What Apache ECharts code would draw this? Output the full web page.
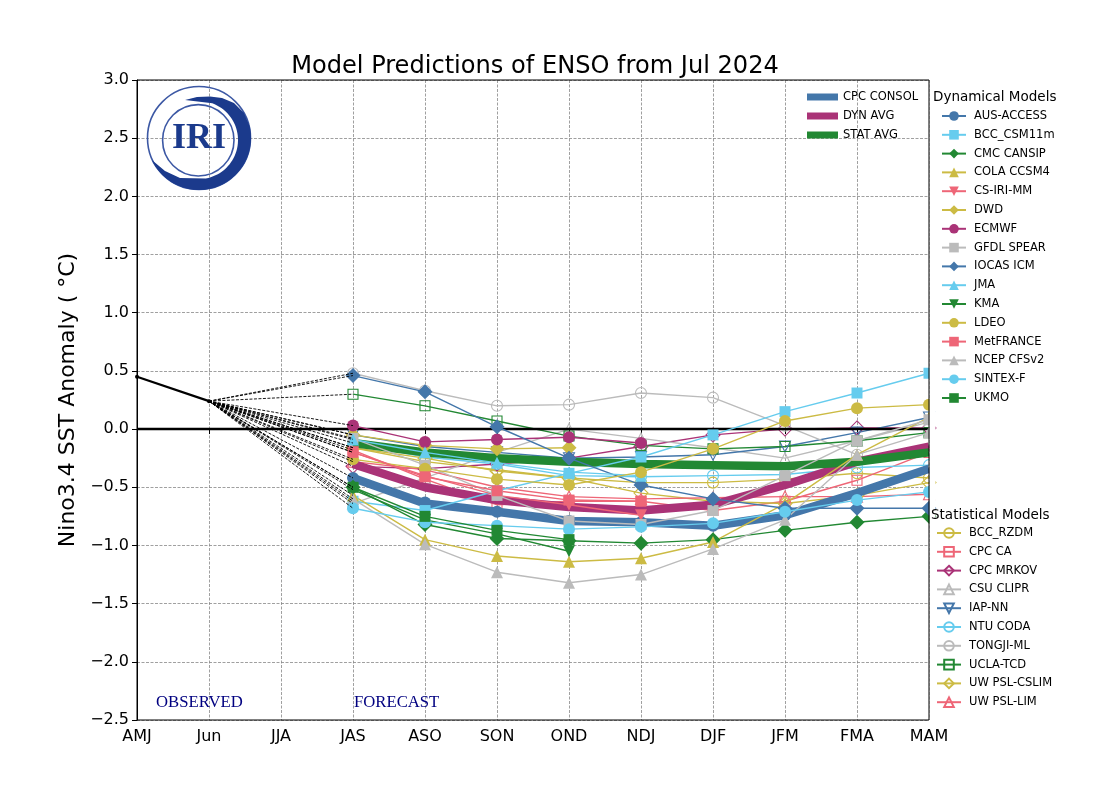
<!DOCTYPE html>
<html>
<head>
<meta charset="utf-8">
<title>ENSO model predictions</title>
<script src="https://cdn.jsdelivr.net/npm/echarts@6/dist/echarts.min.js"></script>
<style>
	html, body { margin: 0; padding: 0; background: #fff; }
	#chart { width: 1100px; height: 800px; }
</style>
</head>
<body>
<div id="chart"></div>
<script>
const categories = ['AMJ', 'Jun', 'JJA', 'JAS', 'ASO', 'SON', 'OND', 'NDJ', 'DJF', 'JFM', 'FMA', 'MAM'];
const observed = [0.45, 0.24];

//dynamical models, JAS onward
const ausAccess = [-0.42, -0.63, -0.71, -0.79, -0.8, -0.83, -0.74];
const bccCsm = [-0.62, -0.7, -0.53, -0.38, -0.24, -0.05, 0.15, 0.31, 0.48];
const cmcCansip = [-0.5, -0.82, -0.94, -0.96, -0.98, -0.95, -0.87, -0.8, -0.75];
const colaCcsm = [-0.57, -0.95, -1.09, -1.14, -1.11, -0.97, -0.64, -0.22, 0.1];
const csIriMm = [-0.2, -0.4, -0.57, -0.65, -0.74];
const dwd = [-0.05, -0.14, -0.17, -0.16];
const ecmwf = [0.03, -0.11, -0.09, -0.07, -0.12];
const gfdlSpear = [-0.08, -0.31, -0.57, -0.79, -0.82, -0.7, -0.4, -0.1, 0.08];
const iocasIcm = [0.46, 0.32, 0.02, -0.25, -0.48, -0.6, -0.68, -0.68, -0.68];
const jma = [-0.09, -0.2, -0.29, -0.37, -0.4];
const kma = [-0.52, -0.78, -0.9, -1.05];
const ldeo = [-0.26, -0.34, -0.43, -0.48, -0.37, -0.17, 0.07, 0.18, 0.21];
const metFrance = [-0.2, -0.41, -0.53, -0.61, -0.62];
const ncepCfs = [-0.6, -0.99, -1.23, -1.32, -1.25, -1.03, -0.78, -0.22, -0.03];
const sintexF = [-0.68, -0.8, -0.83, -0.86, -0.84, -0.81, -0.71, -0.61, -0.54];
const ukmo = [-0.5, -0.75, -0.87, -0.95];

//statistical models
const bccRzdm = [-0.16, -0.28, -0.35, -0.42, -0.46, -0.46, -0.43, -0.38, -0.42];
const cpcCa = [-0.18, -0.43, -0.65, -0.62, -0.62, -0.7, -0.62, -0.44, -0.2];
const cpcMrkov = [-0.32, -0.34, -0.3, -0.25, -0.15, -0.05, 0, 0.01, 0.01];
const csuClipr = [-0.64, -0.42, -0.2, 0, -0.08, -0.16, -0.25, -0.1, 0.06];
const iapNn = [-0.05, -0.15, -0.2, -0.25, -0.24, -0.22, -0.15, -0.03, 0.1];
const ntuCoda = [-0.12, -0.24, -0.3, -0.4, -0.41, -0.4, -0.39, -0.33, -0.31];
const tongjiMl = [0.48, 0.33, 0.2, 0.21, 0.31, 0.27, 0.03, -0.22];
const uclaTcd = [0.3, 0.2, 0.07, -0.06, -0.14, -0.17, -0.15, -0.1, -0.03];
const uwCslim = [-0.16, -0.25, -0.36, -0.42, -0.55, -0.62, -0.64, -0.57, -0.46];
const uwLim = [-0.28, -0.35, -0.5, -0.58, -0.6, -0.59, -0.58, -0.58, -0.56];

//averages
const cpcConsol = [-0.42, -0.64, -0.71, -0.79, -0.8, -0.83, -0.74, -0.55, -0.34];
const dynAvg = [-0.3, -0.5, -0.61, -0.67, -0.7, -0.65, -0.48, -0.28, -0.15];
const statAvg = [-0.12, -0.2, -0.25, -0.28, -0.3, -0.31, -0.32, -0.28, -0.2];

const blue = '#4477AA', cyan = '#66CCEE', green = '#228833', yellow = '#CCBB44', pink = '#EE6677', purple = '#AA3377', grey = '#BBBBBB';
const navy = '#1b3a8c';

const dynModels = [
	['AUS-ACCESS', ausAccess, blue, 'circle'],
	['BCC_CSM11m', bccCsm, cyan, 'rect'],
	['CMC CANSIP', cmcCansip, green, 'diamond'],
	['COLA CCSM4', colaCcsm, yellow, 'triangle'],
	['CS-IRI-MM', csIriMm, pink, 'down'],
	['DWD', dwd, yellow, 'diamond'],
	['ECMWF', ecmwf, purple, 'circle'],
	['GFDL SPEAR', gfdlSpear, grey, 'rect'],
	['IOCAS ICM', iocasIcm, blue, 'diamond'],
	['JMA', jma, cyan, 'triangle'],
	['KMA', kma, green, 'down'],
	['LDEO', ldeo, yellow, 'circle'],
	['MetFRANCE', metFrance, pink, 'rect'],
	['NCEP CFSv2', ncepCfs, grey, 'triangle'],
	['SINTEX-F', sintexF, cyan, 'circle'],
	['UKMO', ukmo, green, 'rect']
];

const statModels = [
	['BCC_RZDM', bccRzdm, yellow, 'circle'],
	['CPC CA', cpcCa, pink, 'rect'],
	['CPC MRKOV', cpcMrkov, purple, 'diamond'],
	['CSU CLIPR', csuClipr, grey, 'triangle'],
	['IAP-NN', iapNn, blue, 'down'],
	['NTU CODA', ntuCoda, cyan, 'circle'],
	['TONGJI-ML', tongjiMl, grey, 'circle'],
	['UCLA-TCD', uclaTcd, green, 'rect'],
	['UW PSL-CSLIM', uwCslim, yellow, 'diamond'],
	['UW PSL-LIM', uwLim, pink, 'triangle']
];

const avgLines = [
	['CPC CONSOL', cpcConsol, blue],
	['DYN AVG', dynAvg, purple],
	['STAT AVG', statAvg, green]
];

const markerSizes = { circle: 12, rect: 11, diamond: 15, triangle: 12, down: 12 };

//forecast values start at the fourth category
const forecastData = function (values) {
	return [null, null, null].concat(values);
};

const modelSeries = function (model, hollow) {
	const shape = model[3];
	const down = shape === 'down';
	return {
		name: model[0],
		type: 'line',
		z: hollow ? 3 : 6,
		data: forecastData(model[1]),
		symbol: down ? 'triangle' : shape,
		symbolRotate: down ? 180 : 0,
		symbolSize: markerSizes[shape] - (hollow ? 1 : 0),
		showSymbol: true,
		showAllSymbol: true,
		lineStyle: { color: model[2], width: 1.4 },
		itemStyle: hollow
			? { color: 'rgba(255,255,255,0)', borderColor: model[2], borderWidth: 1.1 }
			: { color: model[2] }
	};
};

const series = [];

statModels.forEach(function (model) {
	series.push(modelSeries(model, true));
});

//zero line
series.push({
	name: 'zero',
	type: 'line',
	z: 4,
	symbol: 'none',
	data: categories.map(function () { return 0; }),
	lineStyle: { color: '#000', width: 2.5 }
});

avgLines.forEach(function (line) {
	series.push({
		name: line[0],
		type: 'line',
		z: 5,
		symbol: 'none',
		data: forecastData(line[1]),
		lineStyle: { color: line[2], width: 8.5 },
		itemStyle: { color: line[2] }
	});
});

dynModels.forEach(function (model) {
	series.push(modelSeries(model, false));
});

//dashed lines from the last observation to each model's first forecast
dynModels.concat(statModels).forEach(function (model) {
	series.push({
		name: 'link ' + model[0],
		type: 'line',
		z: 7,
		symbol: 'none',
		connectNulls: true,
		data: [null, observed[1], null, model[1][0]],
		lineStyle: { color: '#000', width: 0.9, type: [3, 1.5] }
	});
});

series.push({
	name: 'observed',
	type: 'line',
	z: 8,
	symbol: 'circle',
	symbolSize: 4,
	data: observed,
	lineStyle: { color: '#000', width: 2.2 },
	itemStyle: { color: '#000' }
});

const modelLegend = function (models, left, top) {
	return {
		left: left,
		top: top,
		z: 200,
		padding: 0,
		orient: 'vertical',
		selectedMode: false,
		itemWidth: 24,
		itemHeight: 12,
		itemGap: 6.8,
		data: models.map(function (m) { return m[0]; }),
		textStyle: { fontFamily: 'DejaVu Sans', fontSize: 11.5, color: '#000', padding: [0, 0, 0, 3] }
	};
};

const arcPoints = function (cx, cy, r, from, to, steps) {
	const points = [];
	for (let i = 0; i <= steps; i++) {
		const a = (from + (to - from) * i / steps) * Math.PI / 180;
		points.push([cx + r * Math.cos(a), cy + r * Math.sin(a)]);
	}
	return points;
};

const crescent = arcPoints(199, 138, 52, 155, -13, 40)
	.concat([[244, 113], [234, 103], [222, 98], [210, 96.5], [197, 97], [185, 100]])
	.concat(arcPoints(199, 140, 39, -70, 80, 40))
	.concat([[180, 178], [165, 171]]);

const graphicElements = [
	//hides the part of the markers past the right edge of the plot
	{ type: 'rect', z: 100, silent: true, shape: { x: 929.5, y: 78, width: 6, height: 644 }, style: { fill: '#fff' } },
	{ type: 'rect', z: 101, silent: true, shape: { x: 137, y: 80, width: 792, height: 640 }, style: { fill: 'none', stroke: '#000', lineWidth: 1 } },
	{ type: 'circle', z: 10, silent: true, shape: { cx: 199, cy: 138, r: 51.5 }, style: { fill: 'none', stroke: '#3c58a4', lineWidth: 1.6 } },
	{ type: 'circle', z: 10, silent: true, shape: { cx: 198.3, cy: 140.3, r: 35.7 }, style: { fill: 'none', stroke: '#3c58a4', lineWidth: 1.6 } },
	{ type: 'polygon', z: 10, silent: true, shape: { points: crescent }, style: { fill: navy } },
	{ type: 'text', z: 11, silent: true, x: 199, y: 139, style: { text: 'IRI', fill: navy, font: 'bold 36px "Liberation Serif"', textAlign: 'center', textVerticalAlign: 'middle' } },
	{ type: 'text', z: 11, silent: true, x: 156, y: 703, style: { text: 'OBSERVED', fill: '#000080', font: '16.7px "Liberation Serif"', textVerticalAlign: 'middle' } },
	{ type: 'text', z: 11, silent: true, x: 354, y: 703, style: { text: 'FORECAST', fill: '#000080', font: '16.7px "Liberation Serif"', textVerticalAlign: 'middle' } },
	{ type: 'text', z: 201, silent: true, x: 933, y: 97, style: { text: 'Dynamical Models', fill: '#000', font: '13.5px "DejaVu Sans"', textVerticalAlign: 'middle' } },
	{ type: 'text', z: 201, silent: true, x: 931, y: 515, style: { text: 'Statistical Models', fill: '#000', font: '13.5px "DejaVu Sans"', textVerticalAlign: 'middle' } }
];

const options = {
	animation: false,
	backgroundColor: '#fff',
	title: {
		text: 'Model Predictions of ENSO from Jul 2024',
		left: 530,
		top: 50,
		textAlign: 'center',
		textStyle: { fontFamily: 'DejaVu Sans', fontSize: 24.1, fontWeight: 'normal', color: '#000' }
	},
	grid: { left: 137, top: 80, width: 792, height: 640, containLabel: false },
	legend: [
		{
			left: 807,
			top: 91,
			z: 200,
			padding: 0,
			orient: 'vertical',
			selectedMode: false,
			itemWidth: 31,
			itemHeight: 7,
			itemGap: 7,
			data: avgLines.map(function (l) { return { name: l[0], icon: 'rect' }; }),
			textStyle: { fontFamily: 'DejaVu Sans', fontSize: 11.5, color: '#000', padding: [0, 0, 0, 0] }
		},
		modelLegend(dynModels, 941, 110),
		modelLegend(statModels, 936, 527)
	],
	xAxis: {
		type: 'category',
		boundaryGap: false,
		data: categories,
		axisLine: { lineStyle: { color: '#000', width: 1 } },
		axisTick: { show: true, interval: 0, length: 5, lineStyle: { color: '#000' } },
		axisLabel: { interval: 0, fontFamily: 'DejaVu Sans', fontSize: 16, color: '#000', margin: 9 },
		splitLine: { show: true, interval: 0, lineStyle: { color: '#888', type: [3, 1.5], width: 0.8 } }
	},
	yAxis: {
		type: 'value',
		min: -2.5,
		max: 3,
		interval: 0.5,
		name: 'Nino3.4 SST Anomaly ( °C)',
		nameLocation: 'middle',
		nameGap: 55,
		nameTextStyle: { fontFamily: 'DejaVu Sans', fontSize: 22, color: '#000' },
		axisLine: { show: true, onZero: false, lineStyle: { color: '#000', width: 1 } },
		axisTick: { show: true, length: 5, lineStyle: { color: '#000' } },
		axisLabel: {
			fontFamily: 'DejaVu Sans',
			fontSize: 16,
			color: '#000',
			margin: 8,
			formatter: function (value) {
				return value.toFixed(1).replace('-', '\u2212');
			}
		},
		splitLine: { show: true, lineStyle: { color: '#888', type: [3, 1.5], width: 0.8 } }
	},
	graphic: { elements: graphicElements },
	series: series
};

const chart = echarts.init(document.getElementById('chart'), null, { renderer: 'canvas' });
chart.setOption(options);
</script>
</body>
</html>
